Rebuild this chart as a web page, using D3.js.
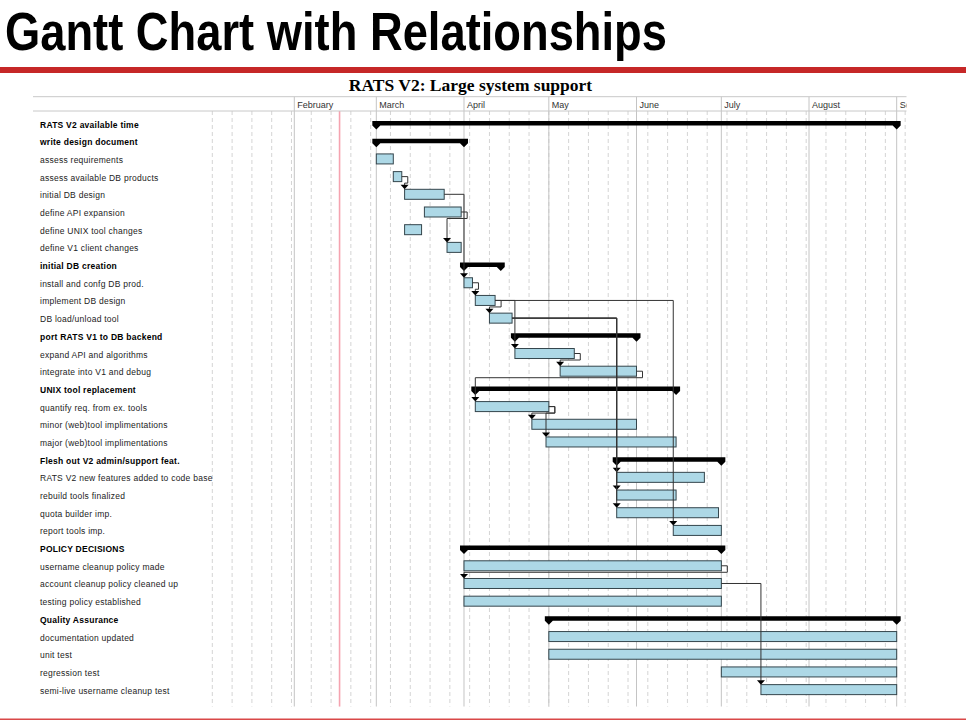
<!DOCTYPE html>
<html lang="en">
<head>
<meta charset="UTF-8">
<title>Gantt Chart with Relationships</title>
<script src="https://d3js.org/d3.v7.min.js"></script>
<style>
  body { margin: 0; background: #fff; }
  text { font-family: "Liberation Sans", Arial, sans-serif; }
</style>
</head>
<body>
<script>
    // rows of the gantt, top to bottom
    var labels = [
        "RATS V2 available time", "write design document", "assess requirements",
        "assess available DB products", "initial DB design", "define API expansion",
        "define UNIX tool changes", "define V1 client changes", "initial DB creation",
        "install and confg DB prod.", "implement DB design", "DB load/unload tool",
        "port RATS V1  to DB backend", "expand API and algorithms", "integrate into V1 and debug",
        "UNIX tool replacement", "quantify req. from ex. tools", "minor (web)tool implimentations",
        "major (web)tool implimentations", "Flesh out V2 admin/support feat.",
        "RATS V2 new features added to code base", "rebuild tools finalized",
        "quota builder imp.", "report tools imp.", "POLICY DECISIONS",
        "username cleanup policy made", "account cleanup policy cleaned up",
        "testing policy established", "Quality Assurance", "documentation updated",
        "unit test", "regression test", "semi-live username cleanup test"
    ];
    // 1 = group bar (bold label), 0 = activity
    var isGroup = [1,1,0,0,0,0,0,0,1,0,0,0,1,0,0,1,0,0,0,1,0,0,0,0,1,0,0,0,1,0,0,0,0];
    var starts = [
        "2000-03-01","2000-03-01","2000-03-01","2000-03-07","2000-03-11","2000-03-18",
        "2000-03-11","2000-03-26","2000-04-01","2000-04-01","2000-04-05","2000-04-10",
        "2000-04-19","2000-04-19","2000-05-05","2000-04-05","2000-04-05","2000-04-25",
        "2000-04-30","2000-05-25","2000-05-25","2000-05-25","2000-05-25","2000-06-14",
        "2000-04-01","2000-04-01","2000-04-01","2000-04-01","2000-05-01","2000-05-01",
        "2000-05-01","2000-07-01","2000-07-15"
    ];
    var ends = [
        "2000-09-01","2000-04-01","2000-03-07","2000-03-10","2000-03-25","2000-03-31",
        "2000-03-17","2000-03-31","2000-04-14","2000-04-04","2000-04-12","2000-04-18",
        "2000-06-01","2000-05-10","2000-06-01","2000-06-15","2000-05-01","2000-06-01",
        "2000-06-15","2000-07-01","2000-06-25","2000-06-15","2000-06-30","2000-07-01",
        "2000-07-01","2000-07-01","2000-07-01","2000-07-01","2000-09-01","2000-09-01",
        "2000-09-01","2000-09-01","2000-09-01"
    ];
    // end -> start relationships [from row, to row]
    var links = [
        [3,4],[4,9],[5,7],[9,10],[10,11],[10,13],[10,23],[11,20],[11,21],[11,22],
        [13,14],[14,16],[16,17],[16,18],[25,26],[26,32]
    ];
    var scaleStart = "2000-01-03", scaleEnd = "2000-09-01";
    var todayLine = "2000-02-17";

    var width = 973, height = 721;
    var parse = d3.utcParse("%Y-%m-%d");

    var svg = d3.select("body").append("svg")
            .attr("width", width)
            .attr("height", height);

    svg.append("rect").attr("width", width).attr("height", height).attr("fill", "#fff");

    // page heading
    svg.append("text")
            .attr("x", 5)
            .attr("y", 50)
            .attr("textLength", 662)
            .attr("lengthAdjust", "spacingAndGlyphs")
            .style("font-family", "'Liberation Sans Narrow', 'Liberation Sans', Arial, sans-serif")
            .style("font-weight", "bold")
            .style("font-size", "53px")
            .attr("fill", "#000")
            .text("Gantt Chart with Relationships");

    svg.append("rect")
            .attr("x", 0).attr("y", 67)
            .attr("width", 966).attr("height", 6)
            .attr("fill", "#c62828");

    svg.append("rect")
            .attr("x", 0).attr("y", 718.5)
            .attr("width", 966).attr("height", 1.5)
            .attr("fill", "#d94848");

    // chart area
    var left = 33, right = 906.5, headTop = 96.7, headBottom = 111, gridBottom = 706.7;

    var x = d3.scaleUtc()
            .domain([parse(scaleStart), parse(scaleEnd)])
            .range([212.3, 212.3 + 242 * 2.828]);

    var y = d3.scaleBand()
            .domain(d3.range(labels.length))
            .range([115.2, 115.2 + labels.length * 17.69]);

    var rowMid = function (i) { return y(i) + y.bandwidth() / 2; };

    svg.append("text")
            .attr("x", 470.5)
            .attr("y", 91)
            .attr("text-anchor", "middle")
            .style("font-family", "'Liberation Serif', 'Times New Roman', serif")
            .style("font-weight", "bold")
            .style("font-size", "17.5px")
            .text("RATS V2: Large system support");

    svg.append("clipPath").attr("id", "plot")
            .append("rect")
            .attr("x", left).attr("y", headTop - 1)
            .attr("width", right - left).attr("height", gridBottom - headTop + 1);

    var g = svg.append("g").attr("clip-path", "url(#plot)");

    // week grid (mondays)
    var weeks = d3.utcMonday.range(parse(scaleStart), d3.utcDay.offset(parse(scaleEnd), 7));
    g.selectAll("line.week")
            .data(weeks)
            .enter()
            .append("line")
            .attr("class", "week")
            .attr("x1", function (d) { return x(d); })
            .attr("x2", function (d) { return x(d); })
            .attr("y1", headBottom)
            .attr("y2", gridBottom)
            .attr("stroke", "#d4d4d4")
            .attr("stroke-dasharray", "4,3");

    // month grid + header
    var months = d3.utcMonth.range(d3.utcMonth.ceil(parse(scaleStart)), d3.utcDay.offset(parse(scaleEnd), 7));
    g.selectAll("line.month")
            .data(months)
            .enter()
            .append("line")
            .attr("class", "month")
            .attr("x1", function (d) { return x(d); })
            .attr("x2", function (d) { return x(d); })
            .attr("y1", headTop)
            .attr("y2", gridBottom)
            .attr("stroke", "#c4c4c4");

    g.selectAll("text.month")
            .data(months)
            .enter()
            .append("text")
            .attr("class", "month")
            .attr("x", function (d) { return x(d) + 3; })
            .attr("y", 107.5)
            .style("font-size", "9px")
            .attr("fill", "#333")
            .text(d3.utcFormat("%B"));

    [headTop, headBottom].forEach(function (yy) {
        svg.append("line")
                .attr("x1", left).attr("x2", right)
                .attr("y1", yy).attr("y2", yy)
                .attr("stroke", "#c8c8c8");
    });

    g.append("line")
            .attr("x1", x(parse(todayLine))).attr("x2", x(parse(todayLine)))
            .attr("y1", headBottom).attr("y2", gridBottom)
            .attr("stroke", "#f5a3b0")
            .attr("stroke-width", 1.6);

    // row labels
    svg.selectAll("text.label")
            .data(labels)
            .enter()
            .append("text")
            .attr("class", "label")
            .attr("x", 40)
            .attr("y", function (d, i) { return rowMid(i) + 3.5; })
            .style("font-size", "8.5px")
            .style("letter-spacing", "0.25px")
            .style("font-weight", function (d, i) { return isGroup[i] ? "bold" : "normal"; })
            .attr("fill", function (d, i) { return isGroup[i] ? "#000" : "#222"; })
            .text(function (d) { return d; });

    var rows = d3.range(labels.length);

    // activity bars
    g.selectAll("rect.bar")
            .data(rows.filter(function (i) { return !isGroup[i]; }))
            .enter()
            .append("rect")
            .attr("class", "bar")
            .attr("x", function (i) { return x(parse(starts[i])); })
            .attr("y", function (i) { return rowMid(i) - 5.5; })
            .attr("width", function (i) { return x(parse(ends[i])) - x(parse(starts[i])); })
            .attr("height", 10)
            .attr("fill", "#add8e6")
            .attr("stroke", "#34454c")
            .attr("stroke-width", 1);

    // group bars with end triangles
    g.selectAll("path.group")
            .data(rows.filter(function (i) { return isGroup[i]; }))
            .enter()
            .append("path")
            .attr("class", "group")
            .attr("fill", "#000")
            .attr("d", function (i) {
                var xs = x(parse(starts[i])), xe = x(parse(ends[i])), c = rowMid(i) - 0.5;
                return "M" + (xs - 4) + "," + (c - 2.5) + "H" + (xe + 4) + "V" + (c + 2) +
                        "L" + xe + "," + (c + 6) + "L" + (xe - 4) + "," + (c + 2) +
                        "H" + (xs + 4) + "L" + xs + "," + (c + 6) + "L" + (xs - 4) + "," + (c + 2) + "Z";
            });

    // relationship lines
    var conn = g.append("g");
    links.forEach(function (l) {
        var s = l[0], t = l[1];
        var sx = x(parse(ends[s])), sy = rowMid(s) - 0.5;
        var tx = x(parse(starts[t])), ty = rowMid(t) - 5.5;
        var p;
        if (tx >= sx + 6) {
            p = "M" + sx + "," + sy + "H" + tx + "V" + (ty - 4);
        } else {
            p = "M" + sx + "," + sy + "H" + (sx + 6) + "V" + (rowMid(s) + 6) + "H" + tx + "V" + (ty - 4);
        }
        conn.append("path")
                .attr("d", p)
                .attr("fill", "none")
                .attr("stroke", "#333")
                .attr("stroke-width", 1);
        conn.append("path")
                .attr("d", "M" + (tx - 4) + "," + (ty - 4.5) + "H" + (tx + 4) + "L" + tx + "," + ty + "Z")
                .attr("fill", "#000");
    });
</script>
</body>
</html>
